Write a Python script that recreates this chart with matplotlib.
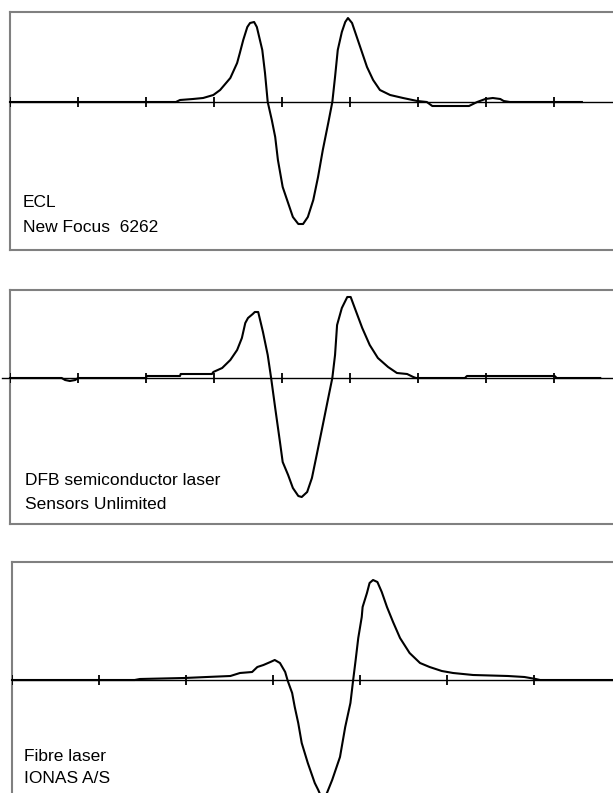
import matplotlib
matplotlib.use("Agg")
import matplotlib.pyplot as plt

# ---------------- data (x in time divisions, y in arbitrary units) ----------------
ecl_x = [0.00, 2.44, 2.50, 2.69, 2.84, 2.99, 3.09, 3.24, 3.34, 3.38,
         3.43, 3.49, 3.53, 3.59, 3.63, 3.71, 3.75, 3.79, 3.85, 3.90,
         3.94, 4.01, 4.09, 4.16, 4.24, 4.31, 4.38, 4.46, 4.53, 4.60,
         4.68, 4.74, 4.78, 4.82, 4.88, 4.93, 4.97, 5.03, 5.10, 5.18,
         5.25, 5.34, 5.44, 5.59, 5.78, 5.99, 6.13, 6.21, 6.75, 6.87,
         6.99, 7.10, 7.21, 7.26, 7.35, 8.41]
ecl_y = [0, 0, 0.2, 0.3, 0.4, 0.7, 1.2, 2.4, 3.9, 4.9,
         6.2, 7.5, 7.9, 8.0, 7.5, 5.2, 2.9, 0, -1.8, -3.5,
         -5.8, -8.5, -10.1, -11.5, -12.2, -12.2, -11.5, -9.8, -7.5, -4.8,
         -2.1, 0, 2.5, 5.2, 7.0, 8.0, 8.4, 7.9, 6.5, 4.9,
         3.5, 2.2, 1.2, 0.7, 0.4, 0.1, 0, -0.4, -0.4, 0,
         0.3, 0.4, 0.3, 0.1, 0, 0]

dfb_x = [0.00, 0.76, 0.81, 0.88, 0.96, 1.00, 2.00, 2.01, 2.50, 2.51,
         2.97, 2.99, 3.12, 3.24, 3.34, 3.41, 3.46, 3.50, 3.57, 3.60,
         3.65, 3.72, 3.79, 3.84, 3.90, 3.97, 4.01, 4.09, 4.16, 4.24,
         4.29, 4.37, 4.44, 4.51, 4.60, 4.68, 4.74, 4.78, 4.81, 4.88,
         4.96, 5.01, 5.07, 5.18, 5.29, 5.41, 5.56, 5.69, 5.84, 5.93,
         5.97, 6.69, 6.72, 8.01, 8.04, 8.68]
dfb_y = [0, 0, -0.2, -0.3, -0.2, 0, 0, 0.2, 0.2, 0.4,
         0.4, 0.6, 1.0, 1.8, 2.8, 4.0, 5.5, 6.0, 6.4, 6.6,
         6.6, 4.6, 2.3, 0, -3.0, -6.4, -8.4, -9.7, -11.0, -11.8,
         -11.9, -11.4, -10.0, -7.7, -4.7, -2.0, 0, 2.3, 5.3, 7.0,
         8.1, 8.1, 7.0, 5.0, 3.3, 2.0, 1.1, 0.5, 0.4, 0.1,
         0, 0, 0.2, 0.2, 0, 0]

fib_x = [0.00, 1.41, 1.47, 1.98, 2.24, 2.51, 2.62, 2.76, 2.82, 2.89,
         2.97, 3.02, 3.08, 3.14, 3.17, 3.22, 3.25, 3.29, 3.33, 3.40,
         3.48, 3.52, 3.57, 3.62, 3.68, 3.77, 3.83, 3.89, 3.92, 3.95,
         3.98, 4.02, 4.03, 4.08, 4.11, 4.15, 4.20, 4.25, 4.31, 4.38,
         4.46, 4.57, 4.69, 4.80, 4.94, 5.07, 5.30, 5.70, 5.89, 6.02,
         6.07, 6.91]
fib_y = [0, 0, 0.1, 0.2, 0.3, 0.4, 0.7, 0.8, 1.3, 1.5,
         1.8, 2.0, 1.7, 0.8, -0.1, -1.3, -2.7, -4.3, -6.3, -8.3,
         -10.3, -11.0, -12.0, -11.3, -10.0, -7.7, -4.7, -2.3, -0.1, 2.0,
         4.2, 6.3, 7.3, 8.7, 9.7, 10.0, 9.8, 8.8, 7.3, 5.8,
         4.2, 2.7, 1.7, 1.3, 0.9, 0.7, 0.5, 0.4, 0.3, 0.1,
         0, 0]

labels = [["ECL", "New Focus  6262"],
          ["DFB semiconductor laser", "Sensors Unlimited"],
          ["Fibre laser", "IONAS A/S"]]
tick_positions = [list(range(0, 10)), list(range(0, 10)), list(range(0, 8))]

# ---------------- layout (figure pixels) ----------------
W, H = 613, 793
fig = plt.figure(figsize=(W / 100, H / 100), dpi=100)

panels = [
    dict(left=10, top=12, bottom=250, div=68.0, zero=102, axstart=10),
    dict(left=10, top=290, bottom=524, div=68.0, zero=378, axstart=2),
    dict(left=12, top=562, bottom=800, div=87.0, zero=680, axstart=12),
]
right_px = 640
series = [(ecl_x, ecl_y), (dfb_x, dfb_y), (fib_x, fib_y)]
text_pos = [(23, 207, 232), (25, 485, 509), (24, 761, 783)]

grey = "#808080"
for i, p in enumerate(panels):
    ax = fig.add_axes([p["left"] / W, 1 - p["bottom"] / H,
                       (right_px - p["left"]) / W, (p["bottom"] - p["top"]) / H])
    ax.set_xlim(0, (right_px - p["left"]) / p["div"])
    ax.set_ylim(-(p["bottom"] - p["zero"]) / 10.0, (p["zero"] - p["top"]) / 10.0)
    ax.set_xticks([])
    ax.set_yticks([])
    for s in ax.spines.values():
        s.set_color(grey)
        s.set_linewidth(1.5)
    x0 = (p["axstart"] - p["left"]) / p["div"]
    ax.plot([x0, 20], [0, 0], color="black", lw=1.0, clip_on=False, zorder=2)
    ax.plot(tick_positions[i], [0] * len(tick_positions[i]), ls="none",
            marker="|", markersize=7.5, mew=1.3, color="black", zorder=3)
    xs, ys = series[i]
    ax.plot(xs, ys, color="black", lw=1.5, zorder=4, clip_on=False)
    tx, b1, b2 = text_pos[i]
    fig.text(tx / W, 1 - b1 / H, labels[i][0], fontsize=12.5,
             family="Liberation Sans", va="baseline", ha="left")
    fig.text(tx / W, 1 - b2 / H, labels[i][1], fontsize=12.5,
             family="Liberation Sans", va="baseline", ha="left")

fig.savefig("out.png", dpi=100)
